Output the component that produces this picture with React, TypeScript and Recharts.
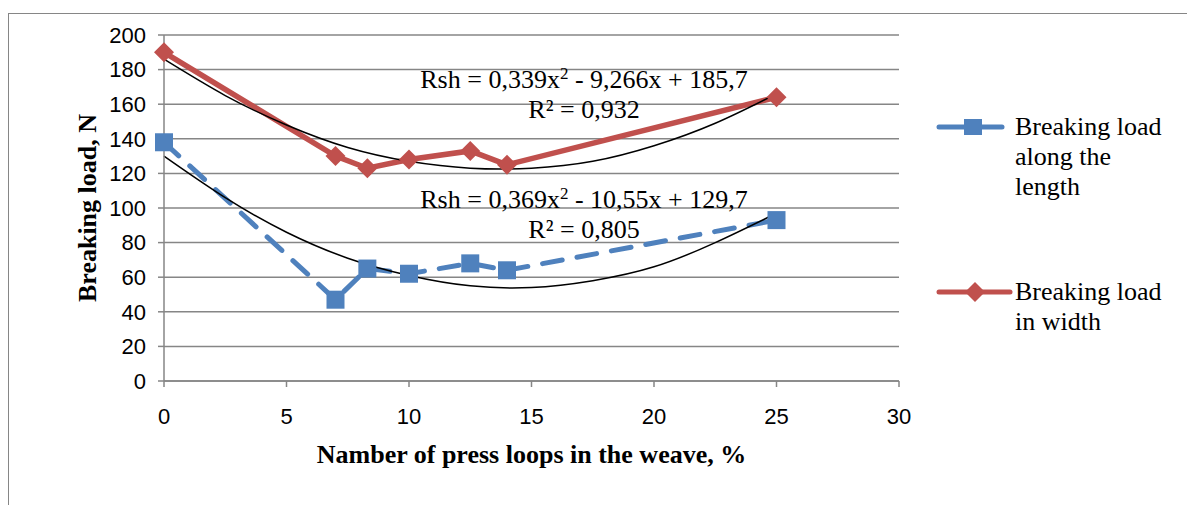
import { CartesianGrid, Label, Legend, Line, LineChart, XAxis, YAxis } from "recharts"

const xLength = [0, 7, 8.3, 10, 12.5, 14, 25]
const lengthValues = [138, 47, 65, 62, 68, 64, 93]
const xWidth = [0, 7, 8.3, 10, 12.5, 14, 25]
const widthValues = [190, 130, 123, 128, 133, 125, 164]

// trendlines
const trendX = [0, 2.5, 5, 7.5, 10, 12.5, 15, 17.5, 20, 22.5, 25]
const trendLength = [130, 106, 86, 71, 61, 55, 54, 58, 66, 80, 97]
const trendWidth = [186, 165, 148, 135, 127, 123, 123, 127, 136, 149, 166]

const xTicks = [0, 5, 10, 15, 20, 25, 30]
const yTicks = [0, 20, 40, 60, 80, 100, 120, 140, 160, 180, 200]

const lengthData = xLength.map((x, i) => ({ x, y: lengthValues[i] }))
const widthData = xWidth.map((x, i) => ({ x, y: widthValues[i] }))
const trendLengthData = trendX.map((x, i) => ({ x, y: trendLength[i] }))
const trendWidthData = trendX.map((x, i) => ({ x, y: trendWidth[i] }))

const BLUE = "#4F81BD"
const RED = "#C0504D"
const GRID = "#868686"
const serif = "'Liberation Serif', 'Times New Roman', serif"
const sans = "'Liberation Sans', Arial, sans-serif"

const SquareDot = (props: any) => {
  const { cx, cy, index } = props
  return <rect key={index} x={cx - 9} y={cy - 9} width={18} height={18} fill={BLUE} />
}

const DiamondDot = (props: any) => {
  const { cx, cy, index } = props
  return (
    <polygon
      key={index}
      points={`${cx},${cy - 10} ${cx + 10},${cy} ${cx},${cy + 10} ${cx - 10},${cy}`}
      fill={RED}
    />
  )
}

function LegendBox() {
  const text = { fontFamily: serif, fontSize: 26, lineHeight: "30px", color: "#000", width: 165 }
  return (
    <div style={{ position: "absolute", left: 936, top: 0, width: 250 }}>
      <div style={{ position: "absolute", top: 112, left: 0, display: "flex" }}>
        <svg width={79} height={30}>
          <line x1={3} y1={15} x2={66} y2={15} stroke={BLUE} strokeWidth={5} strokeLinecap="round" />
          <rect x={28} y={7} width={18} height={16} fill={BLUE} />
        </svg>
        <div style={text}>Breaking load along the length</div>
      </div>
      <div style={{ position: "absolute", top: 277, left: 0, display: "flex" }}>
        <svg width={79} height={30}>
          <line x1={3} y1={15} x2={74} y2={15} stroke={RED} strokeWidth={5} strokeLinecap="round" />
          <polygon points="39,5 49,15 39,25 29,15" fill={RED} />
        </svg>
        <div style={text}>Breaking load in width</div>
      </div>
    </div>
  )
}

function Equation({ top, lines }: { top: number; lines: [string, string, string] }) {
  return (
    <div
      style={{
        position: "absolute",
        left: 384,
        width: 400,
        top,
        textAlign: "center",
        fontFamily: serif,
        fontSize: 26,
        lineHeight: "30px",
        color: "#000",
        whiteSpace: "nowrap",
      }}
    >
      <div>
        {lines[0]}
        <sup style={{ fontSize: 17, verticalAlign: "9px", lineHeight: 0 }}>2</sup>
        {lines[1]}
      </div>
      <div>{lines[2]}</div>
    </div>
  )
}

export default function App() {
  return (
    <div style={{ position: "absolute", left: 0, top: 0, width: 1187, height: 505, overflow: "hidden", background: "#fff" }}>
      <div style={{ position: "absolute", left: 8, top: 13, width: 1300, height: 600, border: `1px solid ${GRID}` }} />
      <div style={{ position: "absolute", left: 0, top: 0 }}>
        <LineChart width={1187} height={505} margin={{ top: 35, right: 288, left: 64, bottom: 40 }}>
          <CartesianGrid horizontal vertical={false} stroke={GRID} strokeWidth={1.5} />
          <XAxis
            type="number"
            dataKey="x"
            domain={[0, 30]}
            ticks={xTicks}
            stroke={GRID}
            strokeWidth={1.5}
            tickSize={6}
            tickMargin={21}
            tick={{ fill: "#000", fontSize: 22, fontFamily: sans }}
            height={84}
          >
            <Label
              value="Namber of press loops in the weave, %"
              position="insideBottom"
              offset={2}
              style={{ fontFamily: serif, fontSize: 26, fontWeight: "bold", fill: "#000" }}
            />
          </XAxis>
          <YAxis
            type="number"
            domain={[0, 200]}
            ticks={yTicks}
            stroke={GRID}
            strokeWidth={1.5}
            tickSize={6}
            tickMargin={12}
            tick={{ fill: "#000", fontSize: 22, fontFamily: sans }}
            width={100}
          >
            <Label
              value="Breaking load, N"
              angle={-90}
              position="insideLeft"
              offset={23}
              style={{ textAnchor: "middle", fontFamily: serif, fontSize: 26, fontWeight: "bold", fill: "#000" }}
            />
          </YAxis>
          <Legend content={() => null} />
          <Line
            data={lengthData}
            dataKey="y"
            name="Breaking load along the length"
            stroke={BLUE}
            strokeWidth={5}
            strokeDasharray="20 15"
            strokeLinecap="round"
            dot={SquareDot}
            activeDot={false}
            isAnimationActive={false}
          />
          <Line
            data={widthData}
            dataKey="y"
            name="Breaking load in width"
            stroke={RED}
            strokeWidth={5.5}
            dot={DiamondDot}
            activeDot={false}
            isAnimationActive={false}
          />
          <Line
            data={trendLengthData}
            dataKey="y"
            type="natural"
            stroke="#000"
            strokeWidth={1.5}
            dot={false}
            activeDot={false}
            legendType="none"
            isAnimationActive={false}
          />
          <Line
            data={trendWidthData}
            dataKey="y"
            type="natural"
            stroke="#000"
            strokeWidth={1.5}
            dot={false}
            activeDot={false}
            legendType="none"
            isAnimationActive={false}
          />
        </LineChart>
      </div>
      <Equation top={65} lines={["Rsh = 0,339x", " - 9,266x + 185,7", "R² = 0,932"]} />
      <Equation top={185} lines={["Rsh = 0,369x", " - 10,55x + 129,7", "R² = 0,805"]} />
      <LegendBox />
    </div>
  )
}
